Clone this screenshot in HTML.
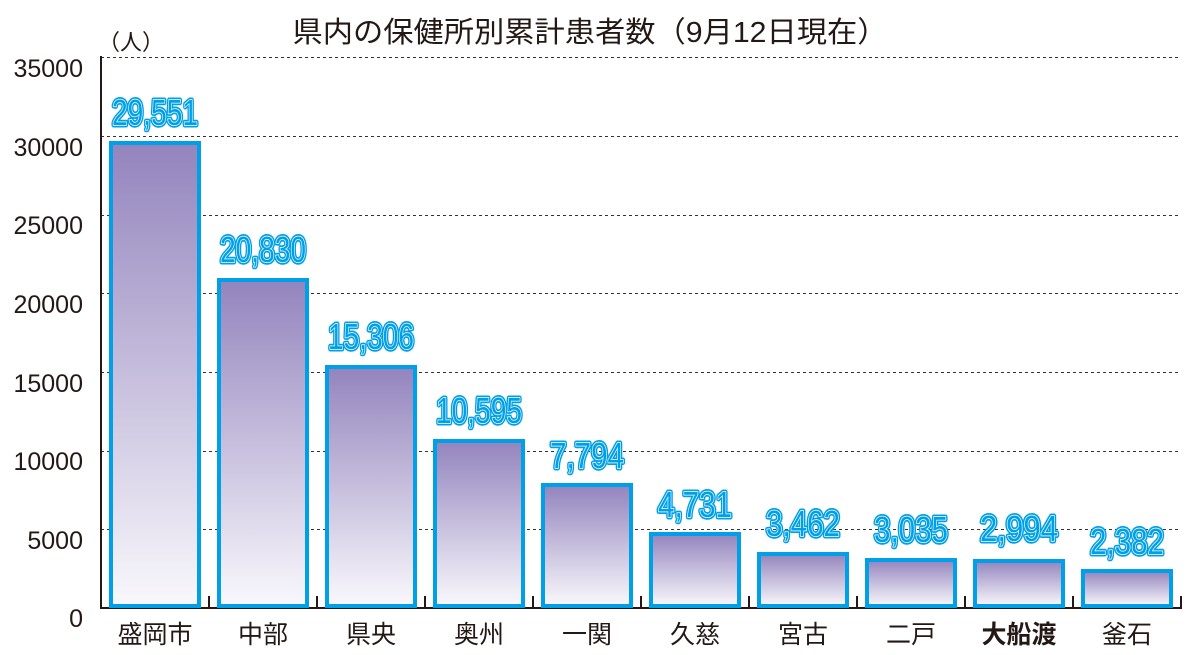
<!DOCTYPE html>
<html><head><meta charset="utf-8"><style>
html,body{margin:0;padding:0;background:#fff;}
svg{display:block;font-family:"Liberation Sans","Noto Sans CJK JP",sans-serif;}
</style></head><body>
<svg width="1200" height="655" viewBox="0 0 1200 655">
<defs>
<linearGradient id="g" x1="0" y1="0" x2="0" y2="1">
<stop offset="0" stop-color="#9384bd"/><stop offset="1" stop-color="#f9f8fc"/>
</linearGradient>
</defs>
<text x="590" y="42" font-size="29" text-anchor="middle" fill="#231815" textLength="595" lengthAdjust="spacingAndGlyphs">県内の保健所別累計患者数（9月12日現在）</text>
<text x="98" y="50" font-size="22" fill="#231815">（人）</text>
<g stroke="#333" stroke-width="1" stroke-dasharray="3,3">
<line x1="101" y1="57.5" x2="1181" y2="57.5"/>
<line x1="101" y1="136.5" x2="1181" y2="136.5"/>
<line x1="101" y1="215.5" x2="1181" y2="215.5"/>
<line x1="101" y1="293.5" x2="1181" y2="293.5"/>
<line x1="101" y1="372.5" x2="1181" y2="372.5"/>
<line x1="101" y1="451.5" x2="1181" y2="451.5"/>
<line x1="101" y1="529.5" x2="1181" y2="529.5"/>
</g>
<g font-size="25" fill="#231815" text-anchor="end">
<text x="83" y="77">35000</text><text x="83" y="156">30000</text><text x="83" y="234">25000</text>
<text x="83" y="313">20000</text><text x="83" y="392">15000</text><text x="83" y="470">10000</text>
<text x="83" y="549">5000</text><text x="83" y="627">0</text>
</g>
<g stroke="#231815" stroke-width="2" fill="none">
<line x1="101" y1="56" x2="101" y2="609"/>
<line x1="100" y1="608" x2="1182" y2="608"/>
<path d="M209 608v-12M317 608v-12M425 608v-12M533 608v-12M641 608v-12M749 608v-12M857 608v-12M965 608v-12M1073 608v-12M1181 608v-12"/>
</g>
<g fill="url(#g)" stroke="#00a0e9" stroke-width="4">
<rect x="111" y="143" width="88" height="463"/>
<rect x="219" y="280" width="88" height="326"/>
<rect x="327" y="367" width="88" height="239"/>
<rect x="435" y="441" width="88" height="165"/>
<rect x="543" y="485" width="88" height="121"/>
<rect x="651" y="534" width="88" height="72"/>
<rect x="759" y="554" width="88" height="52"/>
<rect x="867" y="560" width="88" height="46"/>
<rect x="975" y="561" width="88" height="45"/>
<rect x="1083" y="571" width="88" height="35"/>
</g>
<g font-size="36" text-anchor="middle">
<g fill="#00a0e9" stroke="#00a0e9" stroke-width="5" stroke-linejoin="round">
<text x="155" y="125" textLength="86" lengthAdjust="spacingAndGlyphs">29,551</text>
<text x="263" y="262" textLength="86" lengthAdjust="spacingAndGlyphs">20,830</text>
<text x="371" y="349" textLength="86" lengthAdjust="spacingAndGlyphs">15,306</text>
<text x="479" y="423" textLength="86" lengthAdjust="spacingAndGlyphs">10,595</text>
<text x="587" y="468" textLength="74" lengthAdjust="spacingAndGlyphs">7,794</text>
<text x="695" y="517" textLength="74" lengthAdjust="spacingAndGlyphs">4,731</text>
<text x="803" y="536" textLength="74" lengthAdjust="spacingAndGlyphs">3,462</text>
<text x="911" y="542" textLength="74" lengthAdjust="spacingAndGlyphs">3,035</text>
<text x="1019" y="541" textLength="78" lengthAdjust="spacingAndGlyphs">2,994</text>
<text x="1127" y="554" textLength="74" lengthAdjust="spacingAndGlyphs">2,382</text>
</g>
<g fill="#00a0e9" stroke="#fff" stroke-width="1.5" paint-order="stroke">
<text x="155" y="125" textLength="86" lengthAdjust="spacingAndGlyphs">29,551</text>
<text x="263" y="262" textLength="86" lengthAdjust="spacingAndGlyphs">20,830</text>
<text x="371" y="349" textLength="86" lengthAdjust="spacingAndGlyphs">15,306</text>
<text x="479" y="423" textLength="86" lengthAdjust="spacingAndGlyphs">10,595</text>
<text x="587" y="468" textLength="74" lengthAdjust="spacingAndGlyphs">7,794</text>
<text x="695" y="517" textLength="74" lengthAdjust="spacingAndGlyphs">4,731</text>
<text x="803" y="536" textLength="74" lengthAdjust="spacingAndGlyphs">3,462</text>
<text x="911" y="542" textLength="74" lengthAdjust="spacingAndGlyphs">3,035</text>
<text x="1019" y="541" textLength="78" lengthAdjust="spacingAndGlyphs">2,994</text>
<text x="1127" y="554" textLength="74" lengthAdjust="spacingAndGlyphs">2,382</text>
</g>
</g>
<g font-size="25" fill="#231815" text-anchor="middle">
<text x="155" y="643">盛岡市</text><text x="263" y="643">中部</text><text x="371" y="643">県央</text>
<text x="479" y="643">奥州</text><text x="587" y="643">一関</text><text x="695" y="643">久慈</text>
<text x="803" y="643">宮古</text><text x="911" y="643">二戸</text>
<text x="1019" y="643" font-weight="bold">大船渡</text><text x="1127" y="643">釜石</text>
</g>
</svg>
</body></html>
